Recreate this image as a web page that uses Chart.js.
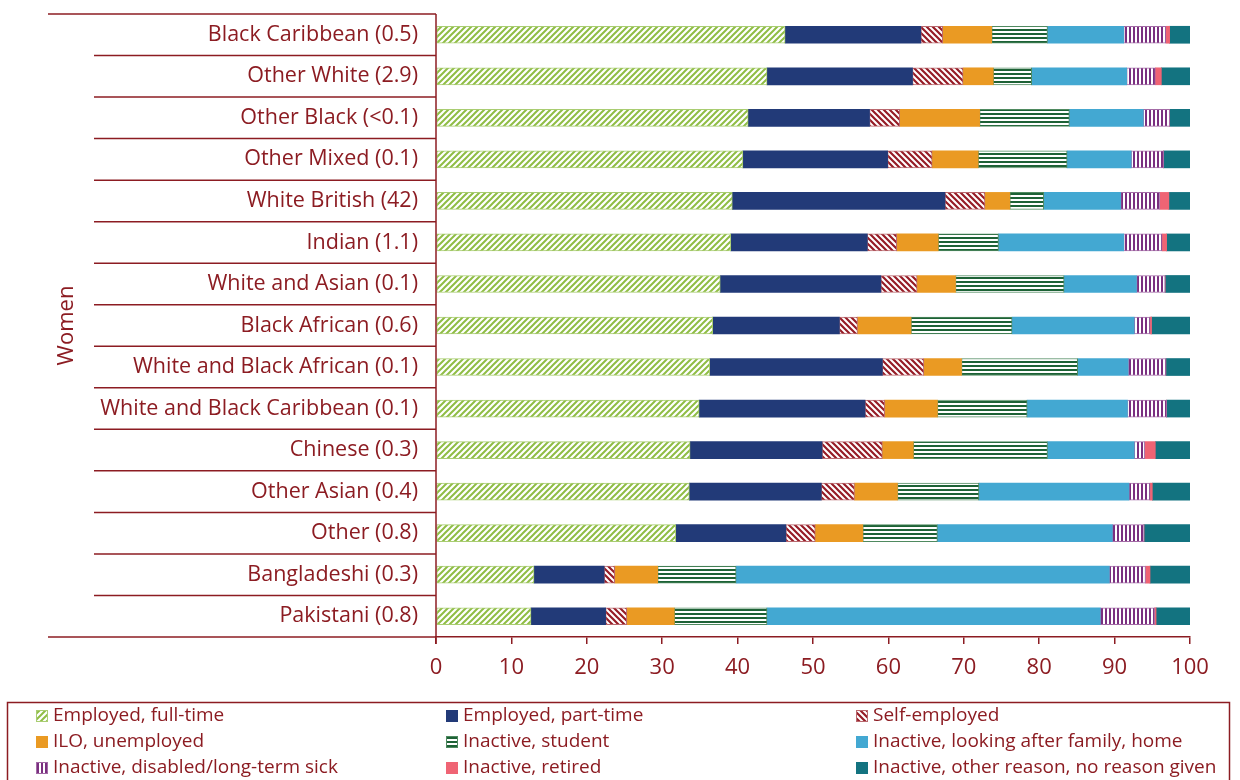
<!DOCTYPE html>
<html>
<head>
<meta charset="utf-8">
<script src="https://cdn.jsdelivr.net/npm/chart.js@4.4.0/dist/chart.umd.min.js"></script>
<style>
  html, body { margin: 0; padding: 0; background: #fff; }
  canvas { display: block; }
</style>
</head>
<body>
<canvas id="myChart" width="1240" height="780"></canvas>
<script>
// Categories (top to bottom), with population share in brackets
const categories = [
  'Black Caribbean (0.5)', 'Other White (2.9)', 'Other Black (<0.1)', 'Other Mixed (0.1)',
  'White British (42)', 'Indian (1.1)', 'White and Asian (0.1)', 'Black African (0.6)',
  'White and Black African (0.1)', 'White and Black Caribbean (0.1)', 'Chinese (0.3)',
  'Other Asian (0.4)', 'Other (0.8)', 'Bangladeshi (0.3)', 'Pakistani (0.8)'
];

// Series values, percent of women in each group
const fullTime   = [46.3, 43.9, 41.4, 40.7, 39.3, 39.1, 37.7, 36.7, 36.3, 34.9, 33.7, 33.6, 31.8, 13.0, 12.6];
const partTime   = [18.0, 19.3, 16.1, 19.2, 28.2, 18.1, 21.3, 16.8, 22.9, 22.0, 17.5, 17.5, 14.6,  9.3,  9.9];
const selfEmp    = [ 2.9,  6.7,  4.0,  5.9,  5.3,  3.9,  4.8,  2.4,  5.5,  2.6,  8.0,  4.4,  3.9,  1.4,  2.8];
const unemployed = [ 6.5,  4.0, 10.6,  6.1,  3.3,  5.5,  5.1,  7.1,  5.0,  7.0,  4.1,  5.7,  6.3,  5.7,  6.3];
const student    = [ 7.4,  5.1, 11.9, 11.8,  4.5,  8.0, 14.4, 13.4, 15.4, 11.9, 17.8, 10.8,  9.9, 10.4, 12.3];
const family     = [10.1, 12.6,  9.8,  8.5, 10.2, 16.6,  9.6, 16.2,  6.7, 13.3, 11.5, 19.9, 23.2, 49.5, 44.2];
const disabled   = [ 5.6,  3.8,  3.5,  4.3,  5.2,  5.1,  3.8,  2.1,  5.0,  5.2,  1.4,  2.8,  4.2,  4.8,  7.2];
const retired    = [ 0.5,  0.8,  0.0,  0.0,  1.2,  0.6,  0.0,  0.2,  0.0,  0.0,  1.4,  0.3,  0.0,  0.6,  0.2];
const otherReason= [ 2.7,  3.8,  2.7,  3.5,  2.8,  3.1,  3.3,  5.2,  3.2,  3.1,  4.6,  5.3,  6.1,  5.3,  4.5];

const xTicks = [0, 10, 20, 30, 40, 50, 60, 70, 80, 90, 100];
const axisTitle = 'Women';

const RED = '#8c1c22';
const FONT = '"Open Sans", Lato, sans-serif';
Chart.defaults.font.family = FONT;
Chart.defaults.color = RED;

// Hatched fills built on a small canvas
function makePattern(color, type) {
  const c = document.createElement('canvas');
  const size = type === 'vert' || type === 'horiz' ? 4 : 6;
  c.width = size; c.height = size;
  const g = c.getContext('2d');
  g.fillStyle = '#fff';
  g.fillRect(0, 0, size, size);
  g.strokeStyle = color;
  g.fillStyle = color;
  if (type === 'horiz') {
    g.fillRect(0, 1, size, 2);
  } else if (type === 'vert') {
    g.fillRect(1, 0, 2, size);
  } else {
    g.lineWidth = type === 'diagR' ? 2 : 2.2;
    g.beginPath();
    if (type === 'diagR') {
      g.moveTo(0, size); g.lineTo(size, 0);
      g.moveTo(-1, 1); g.lineTo(1, -1);
      g.moveTo(size - 1, size + 1); g.lineTo(size + 1, size - 1);
    } else {
      g.moveTo(0, 0); g.lineTo(size, size);
      g.moveTo(size - 1, -1); g.lineTo(size + 1, 1);
      g.moveTo(-1, size - 1); g.lineTo(1, size + 1);
    }
    g.stroke();
  }
  return g.createPattern(c, 'repeat');
}

const ctx = document.getElementById('myChart').getContext('2d');

const seriesDefs = [
  { label: 'Employed, full-time', data: fullTime, bg: makePattern('#8fbd45', 'diagR'), border: '#a9cd72' },
  { label: 'Employed, part-time', data: partTime, bg: '#223a78' },
  { label: 'Self-employed', data: selfEmp, bg: makePattern('#961c26', 'diagL'), border: '#b9686e' },
  { label: 'ILO, unemployed', data: unemployed, bg: '#ea9a23' },
  { label: 'Inactive, student', data: student, bg: makePattern('#1d6236', 'horiz'), border: '#4f8a60' },
  { label: 'Inactive, looking after family, home', data: family, bg: '#43a8d2' },
  { label: 'Inactive, disabled/long-term sick', data: disabled, bg: makePattern('#7a2f80', 'vert'), border: '#a36ba6' },
  { label: 'Inactive, retired', data: retired, bg: '#ef6474' },
  { label: 'Inactive, other reason, no reason given', data: otherReason, bg: '#137380' }
];

const datasets = seriesDefs.map(s => ({
  label: s.label,
  data: s.data,
  backgroundColor: s.bg,
  borderColor: s.border || s.bg,
  borderWidth: s.border ? 1 : 0,
  borderSkipped: false,
  barThickness: 17
}));

// Separator lines between categories, axis title and the boxed legend
const decorations = {
  id: 'decorations',
  afterDraw(chart) {
    const c = chart.ctx, area = chart.chartArea, y = chart.scales.y;
    const n = categories.length;
    const step = (area.bottom - area.top) / n;
    c.save();
    c.strokeStyle = RED;
    c.lineWidth = 1.5;
    for (let i = 0; i <= n; i++) {
      const py = (i < n ? y.getPixelForValue(i) - step / 2 : area.bottom);
      const x0 = (i === 0 || i === n) ? 48 : 94;
      c.beginPath();
      c.moveTo(x0, py);
      c.lineTo(area.left, py);
      c.stroke();
    }
    // y axis line, running down past the x axis
    c.beginPath();
    c.moveTo(area.left, area.top);
    c.lineTo(area.left, area.bottom + 7);
    c.stroke();

    // axis title
    c.fillStyle = RED;
    c.font = '22px ' + FONT;
    c.textAlign = 'center';
    c.textBaseline = 'middle';
    c.translate(67, (area.top + area.bottom) / 2);
    c.rotate(-Math.PI / 2);
    c.fillText(axisTitle, 0, 0);
    c.restore();

    // legend box
    c.save();
    c.strokeStyle = RED;
    c.lineWidth = 1.5;
    c.strokeRect(7.5, 702.5, 1222, 120);
    c.font = '19px ' + FONT;
    c.textBaseline = 'middle';
    c.textAlign = 'left';
    const colX = [36, 446, 856], rowY = [716, 742, 768];
    chart.data.datasets.forEach((ds, i) => {
      const x = colX[i % 3], yy = rowY[Math.floor(i / 3)];
      c.fillStyle = ds.backgroundColor;
      c.fillRect(x, yy - 6, 12, 12);
      if (ds.borderWidth) {
        c.strokeStyle = ds.borderColor;
        c.lineWidth = 1;
        c.strokeRect(x + 0.5, yy - 5.5, 11, 11);
      }
      c.fillStyle = RED;
      c.fillText(ds.label, x + 17, yy);
    });
    c.restore();
  }
};

const myChart = new Chart(ctx, {
  type: 'bar',
  data: { labels: categories, datasets: datasets },
  options: {
    indexAxis: 'y',
    responsive: false,
    animation: false,
    layout: { padding: { top: 14, right: 50, bottom: 80, left: 0 } },
    plugins: { legend: { display: false }, tooltip: { enabled: false } },
    scales: {
      x: {
        stacked: true,
        min: 0,
        max: 100,
        afterBuildTicks: s => { s.ticks = xTicks.map(v => ({ value: v })); },
        afterFit: s => { s.height = 63; s.paddingLeft = 0; s.paddingRight = 0; },
        grid: { drawOnChartArea: false, drawTicks: true, tickLength: 7, color: RED, lineWidth: 1.5 },
        border: { display: true, color: RED, width: 1.5 },
        ticks: { color: RED, font: { size: 22 }, padding: 11 }
      },
      y: {
        stacked: true,
        afterFit: s => { s.width = 436; s.paddingTop = 0; s.paddingBottom = 0; },
        grid: { display: false, drawTicks: false },
        border: { display: false },
        ticks: { color: RED, font: { size: 21.5 }, padding: 18, autoSkip: false }
      }
    }
  },
  plugins: [decorations]
});
</script>
</body>
</html>
